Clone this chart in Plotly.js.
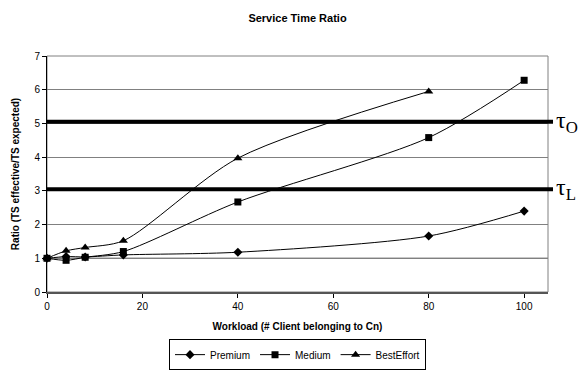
<!DOCTYPE html>
<html><head><meta charset="utf-8">
<script src="https://cdn.plot.ly/plotly-3.0.1.min.js"></script>
<style>html,body{margin:0;padding:0;background:#fff}</style>
</head><body>
<div id="chart" style="width:580px;height:372px"></div>
<script>
const workload = [0, 4, 8, 16, 40, 80, 100];
const premium = [1, 1.05, 1.04, 1.1, 1.18, 1.66, 2.4];
const medium = [1, 0.94, 1.03, 1.2, 2.67, 4.58, 6.28];
const bestEffortX = [0, 4, 8, 16, 40, 80];
const bestEffort = [1, 1.22, 1.32, 1.52, 3.97, 5.95];
const thresholds = [5.05, 3.05];
const thresholdLabels = ['τ<sub>O</sub>', 'τ<sub>L</sub>'];
const baseline = 1;

const common = {mode: 'lines+markers', line: {color: '#000', width: 1, shape: 'spline', smoothing: 0.8}, cliponaxis: false};
const traces = [
  Object.assign({}, common, {x: workload, y: premium, name: 'Premium', marker: {symbol: 'diamond', size: 7, color: '#000'}}),
  Object.assign({}, common, {x: workload, y: medium, name: 'Medium', marker: {symbol: 'square', size: 7, color: '#000'}}),
  Object.assign({}, common, {x: bestEffortX, y: bestEffort, name: 'BestEffort', marker: {symbol: 'triangle-up', size: 8, color: '#000'}})
];

const shapes = thresholds.map(t => ({type: 'line', xref: 'paper', yref: 'y', x0: 0, x1: 1.01, y0: t, y1: t, line: {color: '#000', width: 4}}));
shapes.push({type: 'line', xref: 'paper', yref: 'y', x0: 0, x1: 1, y0: baseline, y1: baseline, line: {color: '#000', width: 1}, layer: 'below'});
shapes.push({type: 'rect', xref: 'paper', yref: 'paper', x0: 0, x1: 1, y0: 0, y1: 1, line: {color: '#808080', width: 1}, layer: 'below'});

const annotations = thresholds.map((t, i) => ({xref: 'paper', yref: 'y', x: 1.012, y: t, xanchor: 'left', yanchor: 'middle', text: thresholdLabels[i], showarrow: false, font: {family: 'Liberation Serif, Times New Roman, serif', size: 24, color: '#000'}}));

const layout = {
  width: 580, height: 372,
  margin: {l: 47, r: 32, t: 56, b: 80},
  paper_bgcolor: '#fff', plot_bgcolor: '#fff',
  font: {family: 'Liberation Sans, Arial, sans-serif', size: 10, color: '#000'},
  title: {text: '<b>Service Time Ratio</b>', x: 0.5, xref: 'paper', y: 0.952, yanchor: 'middle', font: {size: 11}},
  xaxis: {range: [0, 105], tickvals: [0, 20, 40, 60, 80, 100], showgrid: false, zeroline: false, automargin: false,
    showline: true, linecolor: '#555', linewidth: 2, ticks: 'outside', ticklen: 4, tickcolor: '#000',
    title: {text: '<b>Workload (# Client belonging to Cn)</b>', font: {size: 10}, standoff: 12}},
  yaxis: {range: [0, 7], dtick: 1, showgrid: true, gridcolor: '#808080', gridwidth: 1, zeroline: false, automargin: false,
    showline: true, linecolor: '#000', linewidth: 1, ticks: 'outside', ticklen: 4, tickcolor: '#000',
    title: {text: '<b>Ratio (TS effective/TS expected)</b>', font: {size: 10}, standoff: 12}},
  showlegend: true,
  legend: {orientation: 'h', x: 0.5, xanchor: 'center', yref: 'container', y: 0.005, yanchor: 'bottom', bordercolor: '#000', borderwidth: 1, font: {size: 10}, itemwidth: 30, tracegroupgap: 0},
  shapes: shapes, annotations: annotations
};
Plotly.newPlot('chart', traces, layout, {displayModeBar: false, staticPlot: true});
</script>
</body></html>
